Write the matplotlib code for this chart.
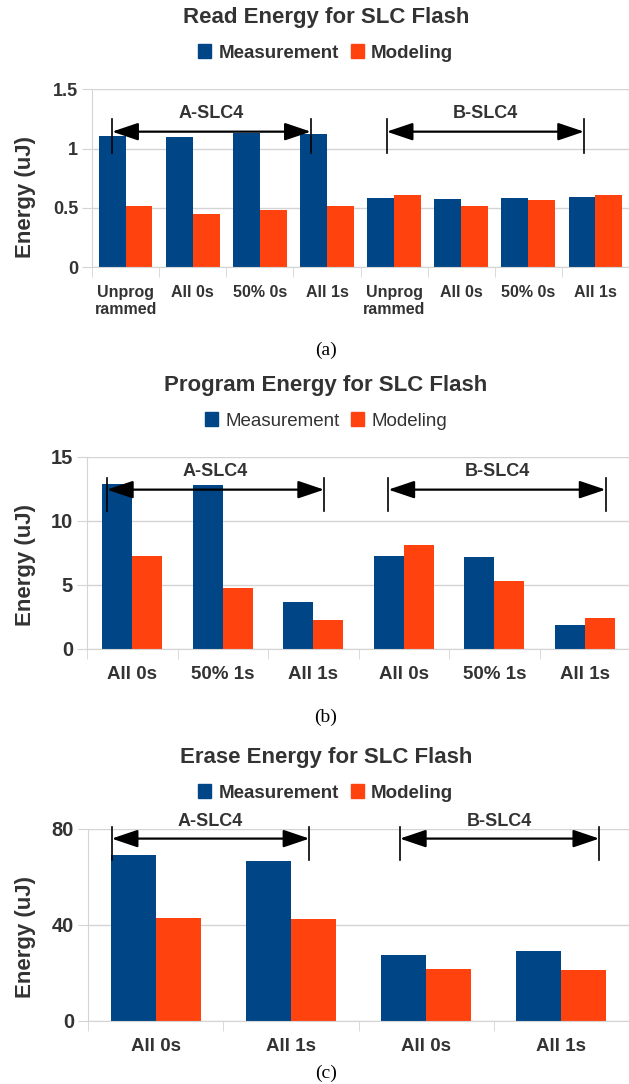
import numpy as np
import matplotlib
matplotlib.use('Agg')
from matplotlib import pyplot as plt
from matplotlib.patches import Patch

plt.rcParams['font.family'] = ['Liberation Sans', 'DejaVu Sans']

# ---------------- data ----------------
read_labels = ['Unprog\nrammed', 'All 0s', '50% 0s', 'All 1s',
               'Unprog\nrammed', 'All 0s', '50% 0s', 'All 1s']
read_meas = [1.11, 1.10, 1.13, 1.12, 0.58, 0.575, 0.58, 0.59]
read_model = [0.52, 0.45, 0.48, 0.52, 0.61, 0.52, 0.57, 0.61]

prog_labels = ['All 0s', '50% 1s', 'All 1s', 'All 0s', '50% 1s', 'All 1s']
prog_meas = [12.9, 12.8, 3.7, 7.25, 7.15, 1.9]
prog_model = [7.3, 4.75, 2.3, 8.15, 5.3, 2.4]

erase_labels = ['All 0s', 'All 1s', 'All 0s', 'All 1s']
erase_meas = [69.0, 66.5, 27.5, 29.3]
erase_model = [43.0, 42.5, 21.6, 21.2]

series_names = ['Measurement', 'Modeling']
blue = '#004586'
orange = '#ff420e'
txt = '#333333'
grid = '#d4d4d4'

fig = plt.figure(figsize=(6.29, 10.84), dpi=100)


def panel(rect, labels, meas, model, ylim, yticks, yticklabels, width,
          arrows, title, title_y, leg_y, leg_bold, ylab_y, caption, cap_y,
          xpad, xfs, yfs):
    ax = fig.add_axes(rect)
    x = np.arange(len(labels))
    ax.bar(x - width / 2, meas, width, color=blue, zorder=2)
    ax.bar(x + width / 2, model, width, color=orange, zorder=2)
    ax.set_xlim(-0.5, len(labels) - 0.5)
    ax.set_ylim(*ylim)
    ax.set_yticks(yticks)
    ax.set_yticklabels(yticklabels, fontweight='bold', fontsize=yfs, color=txt)
    ax.yaxis.grid(True, color=grid, lw=1, zorder=0)
    ax.tick_params(axis='y', length=7, color=grid, pad=3)
    ax.set_xticks(x)
    ax.set_xticklabels(labels, fontweight='bold', fontsize=xfs, color=txt,
                       linespacing=1.15, va='top')
    ax.tick_params(axis='x', length=0, pad=xpad)
    ax.set_xticks(np.arange(len(labels) + 1) - 0.5, minor=True)
    ax.tick_params(axis='x', which='minor', length=7, color=grid)
    ax.spines['top'].set_visible(False)
    for s in ['left', 'right', 'bottom']:
        ax.spines[s].set_color(grid)

    # group arrows
    for x0, x1, ya, ylo, yhi, yt, name in arrows:
        ax.annotate('', xy=(x1, ya), xytext=(x0, ya),
                    arrowprops=dict(arrowstyle='<|-|>,head_length=0.8,head_width=0.27',
                                    color='black', lw=1.6, mutation_scale=20,
                                    shrinkA=0, shrinkB=0),
                    annotation_clip=False, zorder=5)
        for xv in (x0, x1):
            ax.plot([xv, xv], [ylo, yhi], color='black', lw=1.2,
                    clip_on=False, zorder=5)
        ax.text((x0 + x1) / 2, yt, name, ha='center', va='center',
                fontweight='bold', fontsize=13, color=txt, clip_on=False)

    fig.text(0.518, title_y, title, ha='center', va='center',
             fontweight='bold', fontsize=16, color=txt)
    handles = [Patch(color=blue), Patch(color=orange)]
    fig.legend(handles, series_names, loc='center', bbox_to_anchor=(0.518, leg_y),
               ncol=2, frameon=False, handlelength=0.7, handleheight=0.7,
               handletextpad=0.4, columnspacing=0.6,
               prop=dict(weight='bold' if leg_bold else 'normal', size=13.5),
               labelcolor=txt)
    fig.text(0.041, ylab_y, 'Energy (uJ)', rotation=90, ha='center', va='center',
             fontweight='bold', fontsize=16, color=txt)
    fig.text(0.518, cap_y, caption, ha='center', va='center',
             family='Liberation Serif', fontsize=14, color='black')
    return ax


# (a) read
panel([92 / 629, 1 - 267.3 / 1084, 537 / 629, 178 / 1084],
      read_labels, read_meas, read_model, (0, 1.5), [0, 0.5, 1, 1.5],
      ['0', '0.5', '1', '1.5'], 0.4,
      [(-0.2, 2.76, 1.143, 0.96, 1.247, 1.30, 'A-SLC4'),
       (3.89, 6.83, 1.143, 0.96, 1.247, 1.30, 'B-SLC4')],
      'Read Energy for SLC Flash', 1 - 17 / 1084, 1 - 53 / 1084, True,
      1 - 197 / 1084, '(a)', 1 - 350 / 1084, 13, 11.5, 13)

# (b) program
panel([87 / 629, 1 - 649 / 1084, 543 / 629, 192 / 1084],
      prog_labels, prog_meas, prog_model, (0, 15), [0, 5, 10, 15],
      ['0', '5', '10', '15'], 1 / 3,
      [(-0.28, 2.12, 12.45, 10.75, 13.36, 13.9, 'A-SLC4'),
       (2.83, 5.23, 12.45, 10.75, 13.36, 13.9, 'B-SLC4')],
      'Program Energy for SLC Flash', 1 - 385 / 1084, 1 - 421 / 1084, False,
      1 - 565 / 1084, '(b)', 1 - 717 / 1084, 12, 13.5, 14.5)

# (c) erase
panel([88 / 629, 1 - 1021 / 1084, 541 / 629, 192 / 1084],
      erase_labels, erase_meas, erase_model, (0, 80), [0, 40, 80],
      ['0', '40', '80'], 1 / 3,
      [(-0.325, 1.137, 76.0, 66.9, 80.8, 83.2, 'A-SLC4'),
       (1.806, 3.28, 76.0, 66.9, 80.8, 83.2, 'B-SLC4')],
      'Erase Energy for SLC Flash', 1 - 758 / 1084, 1 - 793 / 1084, True,
      1 - 937 / 1084, '(c)', 1 - 1073 / 1084, 12, 13.5, 14.5)

plt.savefig('out.png', dpi=100)
